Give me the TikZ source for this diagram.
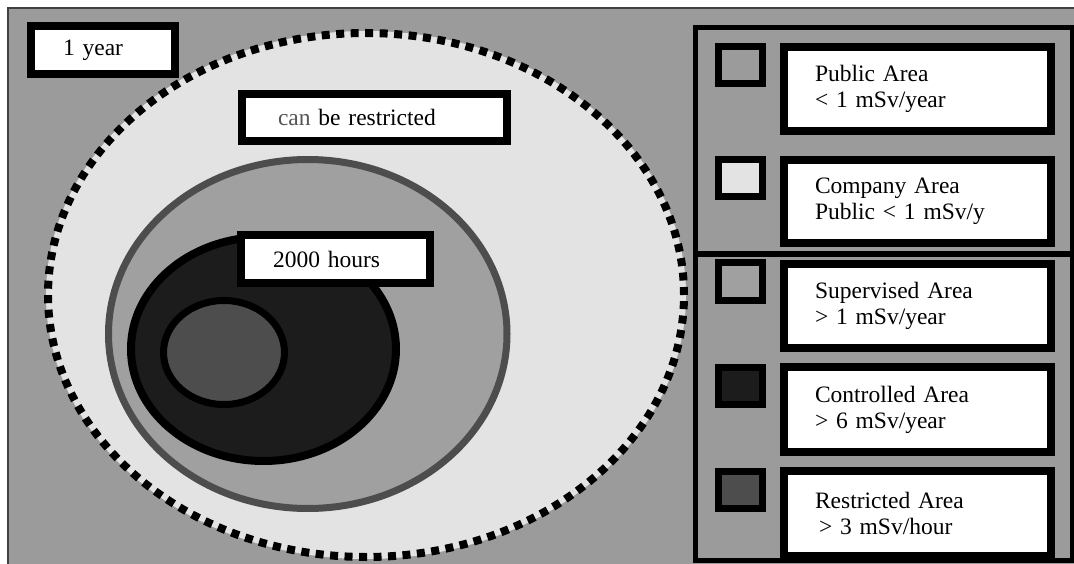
\documentclass[tikz,border=0pt]{standalone}
\usepackage{fontspec}
\setmainfont{Liberation Serif}
\usepackage{tikz}
\usetikzlibrary{positioning}
\usepackage{xcolor}

\definecolor{bggray}{HTML}{9B9B9B}
\definecolor{midgray}{HTML}{A0A0A0}
\definecolor{lightgray}{HTML}{E3E3E3}
\definecolor{darkfill}{HTML}{1C1C1C}
\definecolor{restrfill}{HTML}{4D4D4D}
\definecolor{cangray}{HTML}{555555}

\begin{document}
\begin{tikzpicture}[
  x=1pt, y=-1pt,
  font=\fontsize{23.5}{26}\selectfont,
  tag/.style={draw, line width=8pt, fill=white, align=left, inner ysep=0pt},
  legendbox/.style={tag, text width=205pt, inner xsep=31pt},
  swatch/.style={draw, line width=7pt, minimum width=43.5pt, minimum height=37pt, inner sep=0pt},
  panel/.style={draw, line width=5.5pt},
  zone/.style={line width=7pt}
]
\useasboundingbox (0,0) rectangle (1074,564);

% Background
\fill[bggray] (8,8) rectangle (1080,570);
\draw[line width=1.5pt, black!75] (8,570) -- (8,8) -- (1080,8);

% Nested areas
\fill[lightgray] (366,295) ellipse [x radius=318pt, y radius=262pt];
\draw[line width=4pt, lightgray] (366,295) ellipse [x radius=318pt, y radius=262pt];
\draw[zone, line width=8pt, dash pattern=on 8pt off 6.5pt] (366,295) ellipse [x radius=318pt, y radius=262pt];
\filldraw[zone, fill=midgray, draw=restrfill] (307.75,334) ellipse [x radius=199.25pt, y radius=174.5pt];
\filldraw[zone, line width=8pt, fill=darkfill, draw=black] (263.5,349) ellipse [x radius=132.5pt, y radius=112pt];
\filldraw[zone, fill=restrfill, draw=black] (224,352.5) ellipse [x radius=60.5pt, y radius=52pt];

% Labels on the areas
\node[tag, text width=79pt, inner xsep=32.5pt, minimum height=48pt] (year) at (102.5,50.5) {1 year};
\node[tag, text width=192.5pt, inner xsep=36.5pt, minimum height=46.5pt] (restr) at (374.25,117.75) {{\color{cangray}can} be restricted};
\node[tag, text width=124.5pt, inner xsep=32pt, minimum height=47.5pt] (hours) at (335.25,259.25) {2000 hours};

% Legend panels
\draw[panel] (695.5,27.5) rectangle (1073,254);
\draw[panel] (695.5,254) rectangle (1073,560.5);

% Legend swatches
\node[swatch, fill=bggray] (sq1) at (740.25,65) {};
\node[swatch, fill=lightgray] (sq2) at (740.25,178.5) {};
\node[swatch, fill=midgray] (sq3) at (740.25,281.5) {};
\node[swatch, fill=darkfill] (sq4) at (740.25,386) {};
\node[swatch, fill=restrfill] (sq5) at (740.25,490) {};

% Legend texts
\node[legendbox, minimum height=84pt] (b1) at (917.5,89) {Public Area\\< 1 mSv/year};
\node[legendbox, minimum height=83pt] (b2) at (917.5,201.5) {Company Area\\Public < 1 mSv/y};
\node[legendbox, minimum height=84pt] (b3) at (917.5,306) {Supervised Area\\> 1 mSv/year};
\node[legendbox, minimum height=85pt] (b4) at (917.5,409.5) {Controlled Area\\> 6 mSv/year};
\node[legendbox, minimum height=85pt] (b5) at (917.5,513.5) {Restricted Area\\\hspace*{4pt}> 3 mSv/hour};

\end{tikzpicture}
\end{document}
